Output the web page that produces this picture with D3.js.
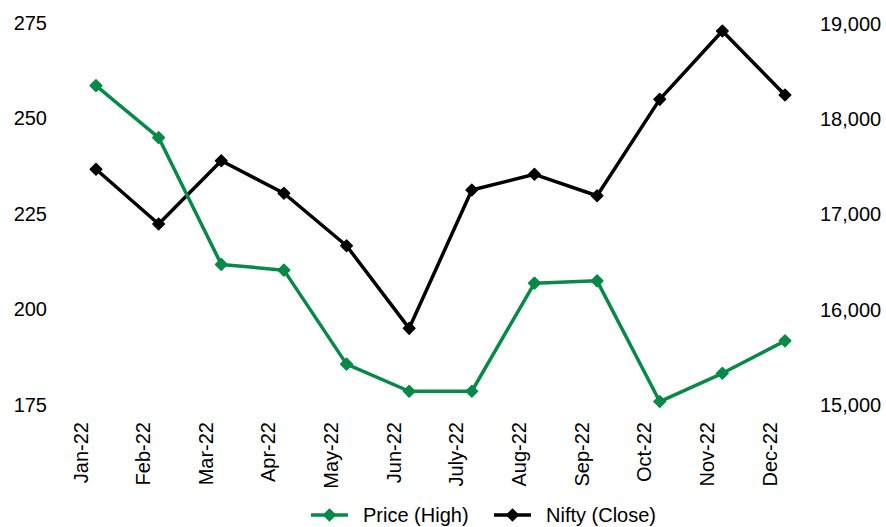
<!DOCTYPE html>
<html>
<head>
<meta charset="utf-8">
<script src="https://cdn.jsdelivr.net/npm/d3@7"></script>
<style>
  html, body { margin: 0; padding: 0; background: #fff; }
  svg { display: block; font-family: "Liberation Sans", Arial, sans-serif; }
</style>
</head>
<body>
<div id="chart"></div>
<script>
/* global d3 */
const months = ['Jan-22', 'Feb-22', 'Mar-22', 'Apr-22', 'May-22', 'Jun-22', 'July-22', 'Aug-22', 'Sep-22', 'Oct-22', 'Nov-22', 'Dec-22'];
const priceHigh = [258.6, 245.0, 211.8, 210.3, 185.7, 178.6, 178.6, 206.9, 207.5, 175.9, 183.3, 191.8];
const niftyClose = [17475, 16900, 17565, 17223, 16672, 15805, 17257, 17422, 17197, 18209, 18927, 18255];
const leftTicks = [175, 200, 225, 250, 275];
const rightTicks = [15000, 16000, 17000, 18000, 19000];
const seriesNames = ['Price (High)', 'Nifty (Close)'];

const GREEN = '#078a47', BLACK = '#000';
const FONT = '"Liberation Sans", Arial, sans-serif', FS = 20;
const w = 886, h = 527;
const svg = d3.select('#chart').append('svg').attr('width', w).attr('height', h).attr('viewBox', `0 0 ${w} ${h}`);

const x = d3.scalePoint().domain(months).range([96, 785]);
const yL = d3.scaleLinear().domain([175, 275]).range([405, 23]);
const yR = d3.scaleLinear().domain([15000, 19000]).range([405, 24]);

// left axis
const gl = svg.append('g').attr('transform', 'translate(47,0)')
  .call(d3.axisLeft(yL).tickValues(leftTicks).tickSize(0).tickPadding(0));
gl.select('.domain').remove();
gl.selectAll('.tick text').attr('fill', '#000').attr('font-size', FS).attr('font-family', FONT);

// right axis
const gr = svg.append('g').attr('transform', 'translate(820,0)')
  .call(d3.axisRight(yR).tickValues(rightTicks).tickFormat(d3.format(',')).tickSize(0).tickPadding(0));
gr.select('.domain').remove();
gr.selectAll('.tick text').attr('fill', '#000').attr('font-size', FS).attr('font-family', FONT);

// category axis with rotated labels
const gx = svg.append('g').attr('transform', 'translate(0,422)')
  .call(d3.axisBottom(x).tickSize(0).tickPadding(0));
gx.select('.domain').remove();
gx.selectAll('.tick text')
  .attr('fill', '#000').attr('font-size', FS).attr('font-family', FONT)
  .attr('x', 0).attr('y', 0).attr('dy', '0.35em')
  .attr('transform', 'translate(-16,0) rotate(-90)')
  .style('text-anchor', 'end');

const diamond = d3.symbol().type(d3.symbolDiamond2).size(85);

function drawSeries(values, yScale, color) {
  const line = d3.line().x((d, i) => x(months[i])).y(d => yScale(d));
  svg.append('path').datum(values)
    .attr('d', line).attr('fill', 'none').attr('stroke', color)
    .attr('stroke-width', 3.5).attr('stroke-linejoin', 'round');
  svg.append('g').selectAll('path').data(values).join('path')
    .attr('d', diamond)
    .attr('transform', (d, i) => `translate(${x(months[i])},${yScale(d)})`)
    .attr('fill', color).attr('stroke', color).attr('stroke-width', 1.5).attr('stroke-linejoin', 'round');
}

drawSeries(niftyClose, yR, BLACK);
drawSeries(priceHigh, yL, GREEN);

// legend
const legendItems = [
  { label: seriesNames[0], color: GREEN, x: 311 },
  { label: seriesNames[1], color: BLACK, x: 494 },
];
const lg = svg.append('g').attr('transform', 'translate(0,515)');
legendItems.forEach(d => {
  const row = lg.append('g').attr('transform', `translate(${d.x},0)`);
  row.append('line').attr('x1', 0).attr('x2', 37).attr('y1', 0).attr('y2', 0)
    .attr('stroke', d.color).attr('stroke-width', 3.5);
  row.append('path').attr('d', diamond).attr('transform', 'translate(18.5,0)')
    .attr('fill', d.color).attr('stroke', d.color).attr('stroke-width', 1.5);
  row.append('text').attr('x', 52).attr('y', 0).attr('dy', '0.35em')
    .attr('fill', '#000').attr('font-size', FS).attr('font-family', FONT)
    .text(d.label);
});
</script>
</body>
</html>
